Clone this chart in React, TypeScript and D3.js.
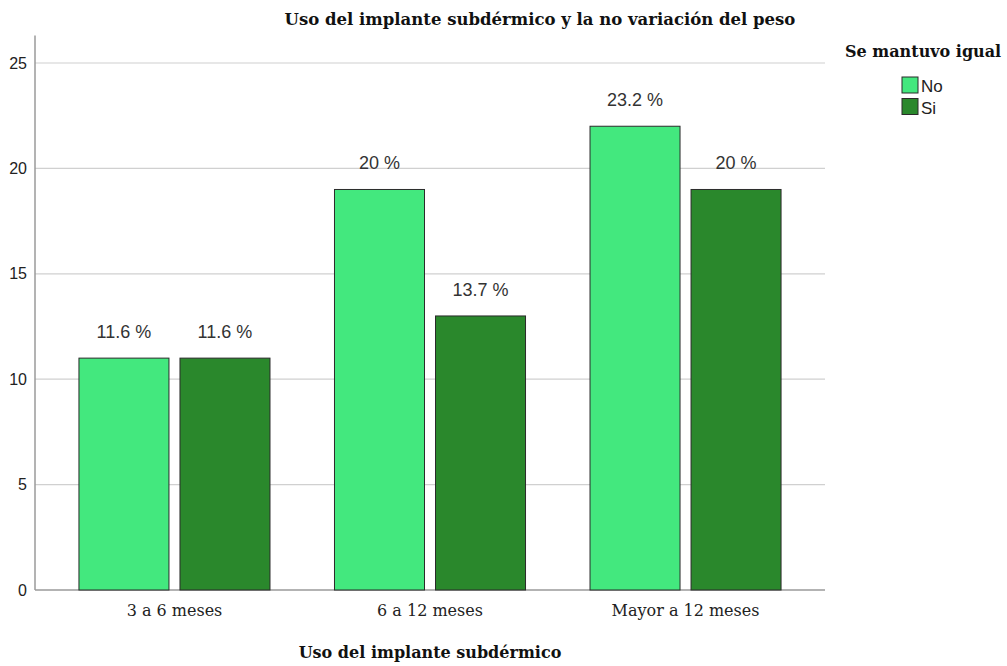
import { axisLeft, scaleBand, scaleLinear, select } from 'd3';
import React, { useEffect, useRef } from 'react';

const categories = ['3 a 6 meses', '6 a 12 meses', 'Mayor a 12 meses'];
const seriesKeys = ['No', 'Si'];
const noValues = [11, 19, 22];
const siValues = [11, 13, 19];
const noLabels = ['11.6 %', '20 %', '23.2 %'];
const siLabels = ['11.6 %', '13.7 %', '20 %'];
const yTicks = [0, 5, 10, 15, 20, 25];

const colors = { No: '#43E87E', Si: '#2A882C' };

const W = 1007;
const H = 666;
const left = 35;
const right = 825;
const bottom = 590;

const App = () => {
  const svgRef = useRef();

  useEffect(() => {
    const svg = select(svgRef.current);
    svg.selectAll('*').remove();

    const rows = categories.map((c, i) => ({
      cat: c,
      values: [
        { key: 'No', v: noValues[i], label: noLabels[i] },
        { key: 'Si', v: siValues[i], label: siLabels[i] },
      ],
    }));

    const x0 = scaleBand()
      .domain(categories)
      .range([left, right])
      .paddingInner(0.2524)
      .paddingOuter(0.172);
    const x1 = scaleBand()
      .domain(seriesKeys)
      .range([0, x0.bandwidth()])
      .paddingInner(0.109);
    const y = scaleLinear().domain([0, 25]).range([bottom, 63]);

    // gridlines
    svg
      .append('g')
      .selectAll('line')
      .data(yTicks.filter((t) => t > 0))
      .join('line')
      .attr('x1', left)
      .attr('x2', right)
      .attr('y1', (d) => y(d))
      .attr('y2', (d) => y(d))
      .attr('stroke', '#d0d0d0')
      .attr('stroke-width', 1.2);

    // y axis
    const yAxis = svg
      .append('g')
      .attr('transform', `translate(${left},0)`)
      .call(axisLeft(y).tickValues(yTicks).tickSize(0).tickPadding(8));
    yAxis.select('.domain').remove();
    yAxis
      .selectAll('text')
      .attr('font-family', '"Liberation Sans", Arial, sans-serif')
      .attr('font-size', 16)
      .attr('fill', '#222');

    svg
      .append('line')
      .attr('x1', left)
      .attr('x2', left)
      .attr('y1', y(26.3))
      .attr('y2', bottom)
      .attr('stroke', '#9a9a9a')
      .attr('stroke-width', 1.5);

    svg
      .append('line')
      .attr('x1', left)
      .attr('x2', right)
      .attr('y1', bottom)
      .attr('y2', bottom)
      .attr('stroke', '#9a9a9a')
      .attr('stroke-width', 1.5);

    const groups = svg
      .append('g')
      .selectAll('g')
      .data(rows)
      .join('g')
      .attr('transform', (d) => `translate(${x0(d.cat)},0)`);

    groups
      .selectAll('rect')
      .data((d) => d.values)
      .join('rect')
      .attr('x', (d) => x1(d.key))
      .attr('y', (d) => y(d.v))
      .attr('width', x1.bandwidth())
      .attr('height', (d) => bottom - y(d.v))
      .attr('fill', (d) => colors[d.key])
      .attr('stroke', '#2b2b2b')
      .attr('stroke-width', 1);

    groups
      .selectAll('text.lbl')
      .data((d) => d.values)
      .join('text')
      .attr('class', 'lbl')
      .attr('x', (d) => x1(d.key) + x1.bandwidth() / 2)
      .attr('y', (d) => y(d.v) - 20)
      .attr('text-anchor', 'middle')
      .attr('font-family', '"Liberation Sans", Arial, sans-serif')
      .attr('font-size', 18)
      .attr('fill', '#333')
      .text((d) => d.label);

    // category labels
    svg
      .append('g')
      .selectAll('text')
      .data(categories)
      .join('text')
      .attr('x', (d) => x0(d) + x0.bandwidth() / 2)
      .attr('y', 616)
      .attr('text-anchor', 'middle')
      .attr('font-family', '"DejaVu Serif", serif')
      .attr('font-size', 16)
      .attr('fill', '#222')
      .text((d) => d);

    svg
      .append('text')
      .attr('x', 430)
      .attr('y', 658)
      .attr('text-anchor', 'middle')
      .attr('font-family', '"DejaVu Serif", serif')
      .attr('font-weight', 'bold')
      .attr('font-size', 16)
      .attr('fill', '#111')
      .text('Uso del implante subdérmico');

    svg
      .append('text')
      .attr('x', 540)
      .attr('y', 25)
      .attr('text-anchor', 'middle')
      .attr('font-family', '"DejaVu Serif", serif')
      .attr('font-weight', 'bold')
      .attr('font-size', 16.5)
      .attr('fill', '#111')
      .text('Uso del implante subdérmico y la no variación del peso');

    // legend
    const legend = svg.append('g');
    legend
      .append('text')
      .attr('x', 845)
      .attr('y', 57)
      .attr('font-family', '"DejaVu Serif", serif')
      .attr('font-weight', 'bold')
      .attr('font-size', 16)
      .attr('fill', '#111')
      .text('Se mantuvo igual');

    const items = legend
      .selectAll('g')
      .data(seriesKeys)
      .join('g')
      .attr('transform', (d, i) => `translate(902,${77 + i * 21.5})`);
    items
      .append('rect')
      .attr('width', 16)
      .attr('height', 16)
      .attr('fill', (d) => colors[d])
      .attr('stroke', '#2b2b2b');
    items
      .append('text')
      .attr('x', 19)
      .attr('y', 15)
      .attr('font-family', '"Liberation Sans", Arial, sans-serif')
      .attr('font-size', 17)
      .attr('fill', '#222')
      .text((d) => d);
  }, []);

  return (
    <svg
      ref={svgRef}
      width={W}
      height={H}
      style={{ position: 'absolute', left: 0, top: 0, background: '#fff' }}
    ></svg>
  );
};

export default App;
